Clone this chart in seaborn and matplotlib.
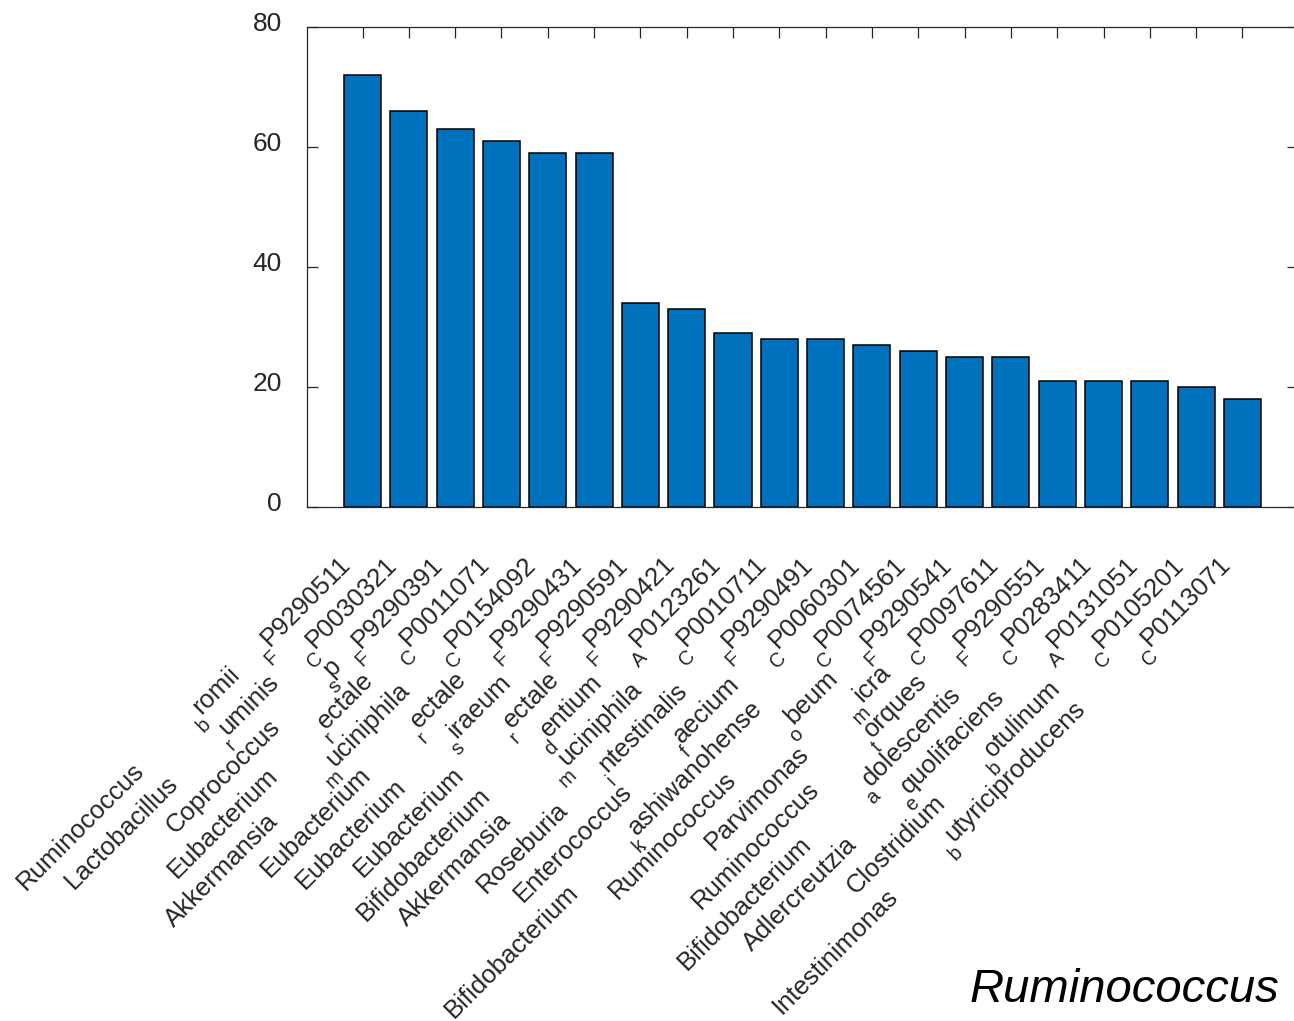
import matplotlib
matplotlib.use("Agg")
import matplotlib.pyplot as plt
import numpy as np
import pandas as pd
import seaborn as sns
from matplotlib.font_manager import FontProperties
from matplotlib.transforms import ScaledTranslation

# Isolates, in the order of the bars
genus = ["Ruminococcus", "Lactobacillus", "Coprococcus", "Eubacterium", "Akkermansia",
         "Eubacterium", "Eubacterium", "Eubacterium", "Bifidobacterium", "Akkermansia",
         "Roseburia", "Enterococcus", "Bifidobacterium", "Ruminococcus", "Parvimonas",
         "Ruminococcus", "Bifidobacterium", "Adlercreutzia", "Clostridium", "Intestinimonas"]
species = ["bromii", "ruminis", "sp", "rectale", "muciniphila",
           "rectale", "siraeum", "rectale", "dentium", "muciniphila",
           "intestinalis", "faecium", "kashiwanohense", "obeum", "micra",
           "torques", "adolescentis", "equolifaciens", "botulinum", "butyriciproducens"]
source = ["F", "C", "F", "C", "C", "F", "F", "F", "A", "C",
          "F", "C", "C", "F", "C", "F", "C", "A", "C", "C"]
strain = ["P9290511", "P0030321", "P9290391", "P0011071", "P0154092",
          "P9290431", "P9290591", "P9290421", "P0123261", "P0010711",
          "P9290491", "P0060301", "P0074561", "P9290541", "P0097611",
          "P9290551", "P0283411", "P0131051", "P0105201", "P0113071"]
counts = [72, 66, 63, 61, 59, 59, 34, 33, 29, 28,
          28, 27, 26, 25, 25, 21, 21, 21, 20, 18]

BAR = "#0072BD"
INK = "#262626"
FAMILY = "Liberation Sans"
FS = 18.5         # tick label size (pt)
SUB = 0.78        # subscript scale
DROP = 0.55 * FS  # subscript baseline drop (pt)

sns.set_theme(style="white")
plt.rcParams["font.family"] = [FAMILY, "DejaVu Sans"]

fig = plt.figure(figsize=(12.94, 10.21), dpi=100)
ax = fig.add_axes([0.2372, 0.5034, 0.7659, 0.4701])

df = pd.DataFrame({"strain": strain, "count": counts})
sns.barplot(data=df, x="strain", y="count", color=BAR, saturation=1,
            edgecolor="black", linewidth=1.1, width=0.8, errorbar=None, ax=ax)

ax.set_xlim(-1.2, 20.2)
ax.set_ylim(0, 80)
ax.set_yticks([0, 20, 40, 60, 80])
ax.set_xticks(range(len(strain)))
ax.set_xlabel("")
ax.set_ylabel("")
for sp in ax.spines.values():
    sp.set_visible(True)
    sp.set_color(INK)
    sp.set_linewidth(0.9)
ax.tick_params(axis="both", direction="in", length=8, width=0.9, color=INK,
               top=True, bottom=True, left=True, right=True)
ax.tick_params(axis="x", labelbottom=False)
ax.tick_params(axis="y", labelsize=19, labelcolor=INK, pad=18)
for lab in ax.get_yticklabels():
    lab.set_fontfamily(FAMILY)
    lab.set_transform(lab.get_transform() + ScaledTranslation(0, 6 / 100, fig.dpi_scale_trans))

# Category labels: genus, species (first letter lowered), source and strain id,
# laid out along a 45 degree baseline that ends under each tick.
renderer = fig.canvas.get_renderer()
fp = FontProperties(family=FAMILY, size=FS)
fps = FontProperties(family=FAMILY, size=FS * SUB)
px2pt = 72 / fig.dpi


def tw(s, prop):
    w, _, _ = renderer.get_text_width_height_descent(s, prop, ismath=False)
    return w * px2pt


def gap(w):
    return 0.35 * FS + 0.35 * w


X0, Y0 = -8.0, -42.0
ca, sa = np.cos(np.pi / 4), np.sin(np.pi / 4)


def place(i, u, v, text, prop):
    dx = u * ca - v * sa
    dy = u * sa + v * ca
    ax.annotate(text, xy=(i, 0), xycoords=ax.get_xaxis_transform(),
                xytext=(X0 + dx, Y0 + dy), textcoords="offset points",
                rotation=45, rotation_mode="anchor", ha="left", va="baseline",
                fontproperties=prop, color=INK, annotation_clip=False)


for i in range(len(strain)):
    u = -tw(strain[i], fp)
    place(i, u, 0, strain[i], fp)
    u -= tw(source[i], fps)
    place(i, u, -DROP, source[i], fps)
    rest = species[i][1:]
    w = tw(rest, fp)
    u -= gap(w) + w
    place(i, u, 0, rest, fp)
    u -= tw(species[i][0], fps)
    place(i, u, -DROP, species[i][0], fps)
    w = tw(genus[i], fp)
    u -= gap(w) + w
    place(i, u, 0, genus[i], fp)

fig.text(0.7495, 0.0186, "Ruminococcus", fontsize=34, fontstyle="italic",
         fontfamily=FAMILY, color="black", ha="left", va="baseline")

fig.savefig("out.png", dpi=100)
